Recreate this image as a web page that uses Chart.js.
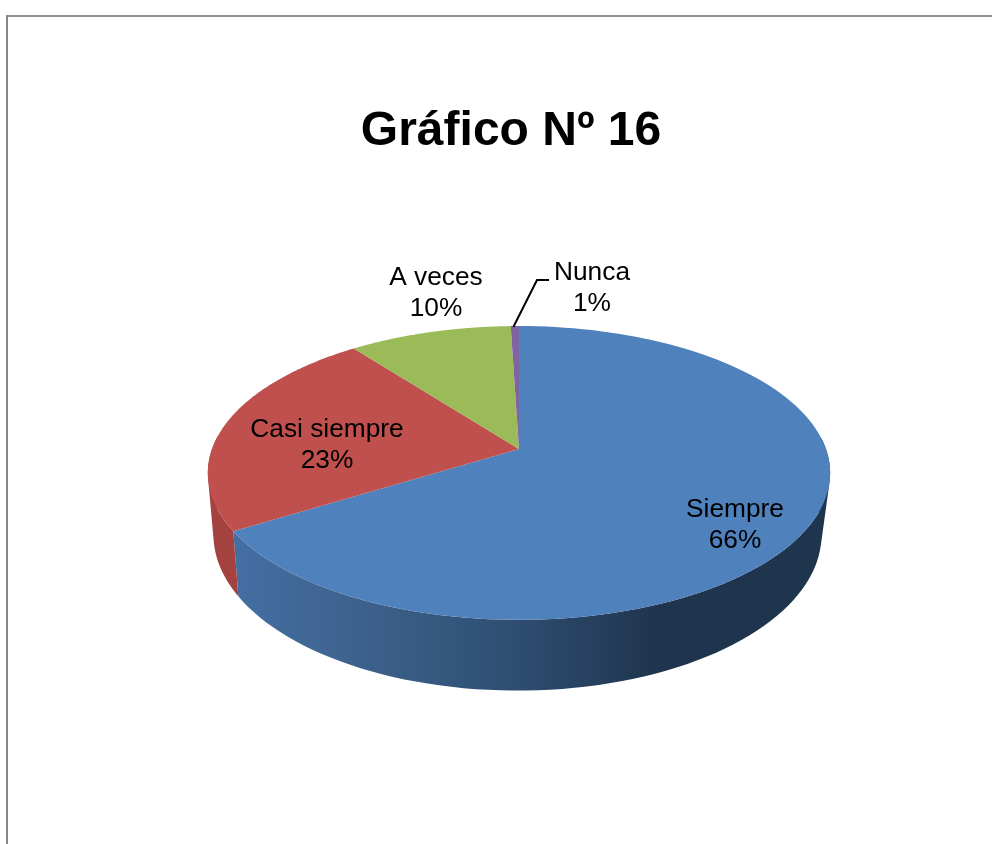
<!DOCTYPE html>
<html>
<head>
<meta charset="utf-8">
<title>Gráfico Nº 16</title>
<style>
  html, body { margin: 0; padding: 0; background: #fff; overflow: hidden; }
  #frame { position: absolute; left: 6px; top: 15px; right: 0; bottom: 0; border-left: 2px solid #878787; border-top: 2px solid #8e8e8e; }
  #myChart { position: absolute; left: 0; top: 0; }
</style>
</head>
<body>
<div id="frame"></div>
<canvas id="myChart" width="992" height="844"></canvas>
<script src="https://cdn.jsdelivr.net/npm/chart.js@4/dist/chart.umd.min.js"></script>
<script>
var categories = ["Siempre", "Casi siempre", "A veces", "Nunca"];
var values = [66.2, 23.4, 9.9, 0.5];
var topColors = ["#4f81bd", "#c0504d", "#9bbb59", "#8064a2"];
var wallColors = ["#1f344d", "#a3423f", "#7f9a48", "#69528a"];

// where each label sits (centre x, first line y)
var labelX = [735, 327, 436, 592];
var labelY = [510, 430, 278, 273];

// perspective of the disc: top face and bottom rim
var topFace = { x: 519, y: 449, rx: 307, ry: 143 };
var bottomFace = { x: 517.5, y: 509, rx: 300, ry: 152 };
var tilt = 0.163;

function project(face, angle) {
  var u = Math.cos(angle), v = -Math.sin(angle);
  var w = 1 + tilt * v;
  return { x: face.x + face.rx * u / w, y: face.y - face.ry * v / w };
}

function wallGradient(ctx, i) {
  if (i !== 0) return wallColors[i];
  var g = ctx.createLinearGradient(233, 0, 829, 0);
  g.addColorStop(0, "#446fa3");
  g.addColorStop(0.25, "#3b5f89");
  g.addColorStop(0.48, "#2e4d70");
  g.addColorStop(0.72, "#1f344d");
  g.addColorStop(1, "#1f344d");
  return g;
}

// all quads go in one path with the same winding, so the fill has no seams
function addQuad(ctx, q) {
  var area = 0, j;
  for (j = 0; j < 4; j++) {
    var n = q[(j + 1) % 4];
    area += q[j].x * n.y - n.x * q[j].y;
  }
  if (area < 0) q.reverse();
  ctx.moveTo(q[0].x, q[0].y);
  for (j = 1; j < 4; j++) ctx.lineTo(q[j].x, q[j].y);
  ctx.closePath();
}

var pie3d = {
  id: "pie3d",
  beforeDatasetsDraw: function(chart) {
    var ctx = chart.ctx;
    var arcs = chart.getDatasetMeta(0).data;
    var steps = 120;
    var s, a, b, p;

    ctx.save();
    // side wall first, only the part facing the viewer
    arcs.forEach(function(arc, i) {
      var span = arc.endAngle - arc.startAngle;
      ctx.beginPath();
      for (s = 0; s < steps; s++) {
        a = arc.startAngle + span * s / steps;
        b = arc.startAngle + span * (s + 1) / steps;
        if (Math.sin(a) < -0.1 || Math.sin(b) < -0.1) continue;
        addQuad(ctx, [project(topFace, a), project(topFace, b), project(bottomFace, b), project(bottomFace, a)]);
      }
      ctx.fillStyle = wallGradient(ctx, i);
      ctx.fill();
    });

    arcs.forEach(function(arc, i) {
      ctx.beginPath();
      ctx.moveTo(topFace.x, topFace.y);
      for (s = 0; s <= steps; s++) {
        a = arc.startAngle + (arc.endAngle - arc.startAngle) * s / steps;
        p = project(topFace, a);
        ctx.lineTo(p.x, p.y);
      }
      ctx.closePath();
      ctx.fillStyle = topColors[i];
      ctx.fill();
    });

    // leader line for Nunca
    var nunca = arcs[3];
    p = project(topFace, (nunca.startAngle + nunca.endAngle) / 2);
    ctx.beginPath();
    ctx.moveTo(p.x - 1.5, p.y + 1);
    ctx.lineTo(537, 280);
    ctx.lineTo(549, 280);
    ctx.strokeStyle = "#000";
    ctx.lineWidth = 2;
    ctx.stroke();

    ctx.fillStyle = "#000";
    ctx.font = "26.3px 'Liberation Sans'";
    ctx.textAlign = "center";
    ctx.textBaseline = "middle";
    categories.forEach(function(name, i) {
      ctx.fillText(name, labelX[i], labelY[i]);
      ctx.fillText(Math.round(values[i]) + "%", labelX[i], labelY[i] + 31);
    });
    ctx.restore();
    return false;
  }
};

var myChart = new Chart(document.getElementById("myChart"), {
  type: "pie",
  plugins: [pie3d],
  data: {
    labels: categories,
    datasets: [{ data: values, backgroundColor: topColors, borderWidth: 0 }]
  },
  options: {
    responsive: false,
    animation: false,
    layout: { padding: { left: 30, top: 103 } },
    plugins: {
      legend: { display: false },
      tooltip: { enabled: false },
      title: {
        display: true,
        text: "Gráfico Nº 16",
        color: "#000",
        font: { family: "'Liberation Sans'", size: 48, weight: "bold" },
        padding: { top: 0, bottom: 20 }
      }
    }
  }
});
</script>
</body>
</html>
